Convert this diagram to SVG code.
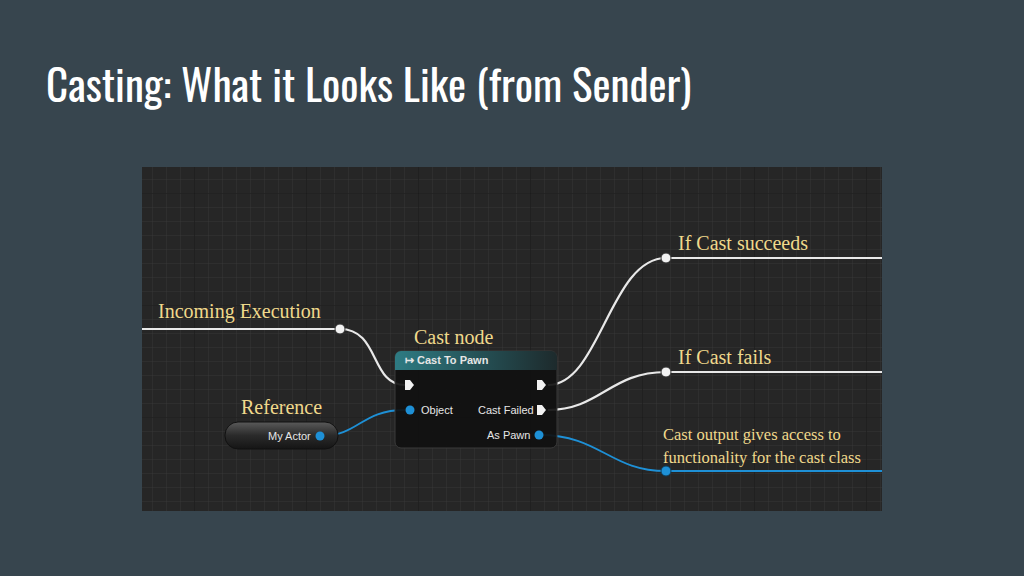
<svg xmlns="http://www.w3.org/2000/svg" width="1024" height="576" viewBox="0 0 1024 576">
<defs>
<pattern id="minor" x="166" y="165" width="14" height="14" patternUnits="userSpaceOnUse"><path d="M0 0H14M0 0V14" stroke="#363636" stroke-width="1" fill="none"/></pattern>
<pattern id="major" x="194" y="193" width="112" height="112" patternUnits="userSpaceOnUse"><path d="M0 0H112M0 0V112" stroke="#161616" stroke-width="1.2" fill="none"/></pattern>
<linearGradient id="hdr" x1="0" y1="0" x2="1" y2="0"><stop offset="0" stop-color="#2e7b83"/><stop offset="1" stop-color="#1d2a2c"/></linearGradient>
<linearGradient id="var" x1="0" y1="0" x2="0" y2="1"><stop offset="0" stop-color="#5a5a5a"/><stop offset="0.5" stop-color="#2a2a2a"/><stop offset="1" stop-color="#151515"/></linearGradient>
</defs>
<style>
.t{font-family:"Liberation Serif",serif;font-size:20px;fill:#f0d98c}
.s{font-family:"Liberation Serif",serif;font-size:16.5px;fill:#f0d98c}
.p{font-family:"Liberation Sans",Arial,sans-serif;font-size:11px;fill:#e6e6e6}
.w{stroke:#e8e8e8;stroke-width:2.2;fill:none}
.b{stroke:#1e90d6;stroke-width:1.8;fill:none}
</style>
<rect width="1024" height="576" fill="#37454e"/>
<text x="46" y="102" font-family="Oswald,'Liberation Sans Narrow','DejaVu Sans Condensed',sans-serif" font-size="43" fill="#ffffff">Casting: What it Looks Like (from Sender)</text>
<rect x="142" y="167" width="740" height="344" fill="#262626"/>
<rect x="142" y="167" width="740" height="344" fill="url(#minor)"/>
<rect x="142" y="167" width="740" height="344" fill="url(#major)"/>
<g id="connectors">
<path class="w" d="M142 329H340C380 329 370 385 405 385"/>
<path class="w" d="M548 385C600 385 610 258 666 258H882"/>
<path class="w" d="M548 410C600 410 610 372 666 372H882"/>
<path class="b" d="M320 436C360 436 360 410 405 410"/>
<path class="b" d="M540 435C600 435 610 471 666 471H882"/>
</g>
<g id="labels">
<text class="t" x="158" y="318">Incoming Execution</text>
<text class="t" x="414" y="344">Cast node</text>
<text class="t" x="241" y="414">Reference</text>
<text class="t" x="678" y="250">If Cast succeeds</text>
<text class="t" x="678" y="364">If Cast fails</text>
<text class="s" x="663" y="440">Cast output gives access to</text>
<text class="s" x="663" y="463">functionality for the cast class</text>
</g>
<g id="pins">
<circle cx="340" cy="329" r="5" fill="#f2f2f2" stroke="#333"/>
<circle cx="666" cy="258" r="5" fill="#f2f2f2" stroke="#333"/>
<circle cx="666" cy="372" r="5" fill="#f2f2f2" stroke="#333"/>
<circle cx="666" cy="471" r="5" fill="#1e90d6" stroke="#0d3f5c"/>
</g>
<g id="cast-node">
<rect x="395" y="351" width="162" height="97" rx="6" fill="#101010" fill-opacity="0.92" stroke="#3a3a3a"/>
<path d="M395 370V357a6 6 0 0 1 6-6H551a6 6 0 0 1 6 6V370Z" fill="url(#hdr)"/>
<text x="405" y="364" font-family="'Liberation Sans',Arial,sans-serif" font-size="11" font-weight="bold" fill="#e6e6e6">↦ Cast To Pawn</text>
<path d="M405 380H410L414 385L410 390H405Z" fill="#f2f2f2"/>
<path d="M537 380H542L546 385L542 390H537Z" fill="#f2f2f2"/>
<path d="M537 405H542L546 410L542 415H537Z" fill="#f2f2f2"/>
<circle cx="410" cy="410" r="4.5" fill="#1e90d6"/>
<text class="p" x="421" y="414">Object</text>
<text class="p" x="478" y="414">Cast Failed</text>
<circle cx="539" cy="435" r="4.5" fill="#1e90d6"/>
<text class="p" x="487" y="439">As Pawn</text>
</g>
<g id="my-actor">
<rect x="225" y="422" width="113" height="27" rx="13" fill="url(#var)" stroke="#111"/>
<text class="p" x="268" y="440">My Actor</text>
<circle cx="320" cy="436" r="4.5" fill="#1e90d6"/>
</g>
</svg>
